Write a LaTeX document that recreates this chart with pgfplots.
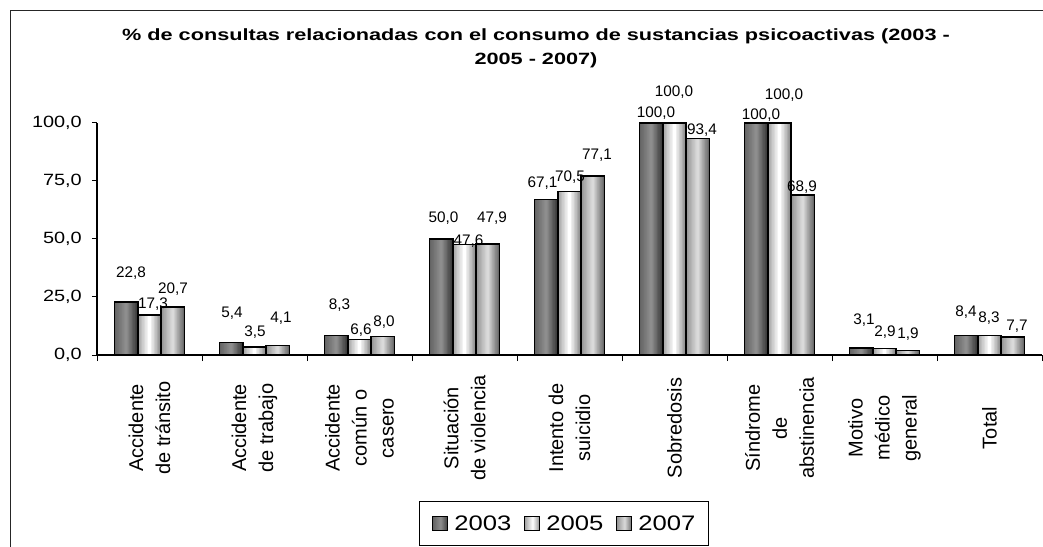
\documentclass[border=0pt]{standalone}
\usepackage{fontspec}
\setmainfont{Liberation Sans}
\newfontfamily\stretchA{Liberation Sans}[FakeStretch=1.22]
\newfontfamily\titlefam{Liberation Sans}[FakeStretch=1.33]
\usepackage{pgfplots}
\usepackage{pgfplotstable}
\pgfplotsset{compat=1.18}

\definecolor{aL}{RGB}{100,100,100}
\definecolor{aM}{RGB}{142,142,142}
\definecolor{aR}{RGB}{58,58,58}
\definecolor{bL}{RGB}{165,165,165}
\definecolor{bM}{RGB}{255,255,255}
\definecolor{bR}{RGB}{140,140,140}
\definecolor{cL}{RGB}{150,150,150}
\definecolor{cM}{RGB}{218,218,218}
\definecolor{cR}{RGB}{105,105,105}

\newcommand\lfont{\fontsize{15.3}{15.3}\selectfont}
\newcommand\ytfont{\stretchA\fontsize{16.3}{16.3}\selectfont}
\newcommand\legfont{\stretchA\fontsize{21}{21}\selectfont}
\newcommand\xtfont{\fontsize{20}{27}\selectfont}
\newcommand\tifont{\titlefam\bfseries\fontsize{16.3}{23.5}\selectfont}

% bar values of each series
\pgfplotstableread{
x y
0 22.8
1 5.4
2 8.3
3 50.0
4 67.1
5 100
6 100
7 3.1
8 8.4
}\dA
\pgfplotstableread{
x y
0 17.3
1 3.5
2 6.6
3 47.6
4 70.5
5 100
6 100
7 2.9
8 8.3
}\dB
\pgfplotstableread{
x y
0 20.7
1 4.1
2 8.0
3 47.9
4 77.1
5 93.4
6 68.9
7 1.9
8 7.7
}\dC

% label positions (x in category units, y in value units) and texts
\pgfplotstableread{
x y l
-0.176 35.3 22,8
0.786 18.1 5,4
1.810 21.6 8,3
2.800 59.1 50,0
3.743 74.1 67,1
4.824 104.3 100,0
5.824 103.4 100,0
6.805 15.1 3,1
7.776 18.5 8,4
}\labA
\pgfplotstableread{
x y l
0.033 22.0 17,3
1.005 9.9 3,5
2.014 10.8 6,6
3.038 49.1 47,6
4.005 76.7 70,5
4.995 113.4 100,0
6.043 112.1 100,0
7.005 9.9 2,9
7.995 15.9 8,3
}\labB
\pgfplotstableread{
x y l
0.224 28.4 20,7
1.252 15.9 4,1
2.233 14.2 8,0
3.262 59.1 47,9
4.262 86.2 77,1
5.262 97.0 93,4
6.214 72.4 68,9
7.224 9.1 1,9
8.262 12.5 7,7
}\labC

% horizontally shaded bars: #1 table, #2 shift (pt), #3 left, #4 middle, #5 right colour
\newcommand\shadedbars[5]{%
  \pgfplotsinvokeforeach{0,...,7}{%
    \pgfmathsetmacro\sA{-11.65+##1*11.65/8}%
    \pgfmathsetmacro\wA{0.3-\sA}%
    \pgfmathsetmacro\cA{#2+(\sA+0.3)/2}%
    \pgfmathtruncatemacro\pc{##1*100/7}%
    \pgfmathsetmacro\sB{11.65-##1*11.65/8}%
    \pgfmathsetmacro\cB{#2+\sB/2}%
    \edef\tmp{%
      \noexpand\addplot[forget plot, ybar, draw=none, bar width=\wA pt, bar shift=\cA pt, fill=#4!\pc!#3] table[x=x,y=y] {\noexpand#1};%
      \noexpand\addplot[forget plot, ybar, draw=none, bar width=\sB pt, bar shift=\cB pt, fill=#4!\pc!#5] table[x=x,y=y] {\noexpand#1};%
    }%
    \tmp
  }%
}

\begin{document}
\begin{tikzpicture}
\begin{axis}[
  at={(97pt,191pt)}, anchor=south west,
  scale only axis, width=945pt, height=232pt,
  xmin=-0.5, xmax=8.5, ymin=0, ymax=100,
  clip=false,
  axis x line*=bottom, axis y line*=left,
  axis line style={-, line width=1.2pt, black},
  tick align=outside,
  tick style={black, line width=1pt},
  xtick={0,...,8},
  xticklabels={{Accidente\\de tránsito},{Accidente\\de trabajo},{Accidente\\común o\\casero},{Situación\\de violencia},{Intento de\\suicidio},{Sobredosis},{Síndrome\\de\\abstinencia},{Motivo\\médico\\general},{Total}},
  major x tick style={draw=none},
  minor xtick={-0.5,0.5,...,8.5},
  minor tick length=6pt,
  major tick length=5pt,
  ytick={0,25,50,75,100},
  yticklabels={{0,0},{25,0},{50,0},{75,0},{100,0}},
  yticklabel style={font=\ytfont, anchor=east, inner sep=0pt, xshift=-10pt},
  xticklabel style={font=\xtfont, align=center, yshift=-68pt, rotate=90, anchor=center, inner sep=0pt},
  legend columns=3,
  legend style={at={(0.3407,-0.63)}, anchor=north west, draw=black, line width=1pt,
    font=\legfont, inner xsep=13pt, inner ysep=11pt,
    nodes={inner xsep=0pt, inner ysep=3pt},
    column sep=6pt,
    /tikz/every even column/.append style={column sep=13pt}},
  legend cell align=left,
]
\shadedbars{\dA}{-23.3}{aL}{aM}{aR}
\shadedbars{\dB}{0}{bL}{bM}{bR}
\shadedbars{\dC}{23.3}{cL}{cM}{cR}

\addplot[ybar, bar width=23.3pt, bar shift=-23.3pt, fill=none, draw=black, line width=1.5pt,
  legend image code/.code={\draw[draw=black, line width=1pt, left color=aL, right color=aR, middle color=aM] (0pt,-7pt) rectangle (15pt,7pt);}]
  table[x=x,y=y] {\dA};
\addplot[ybar, bar width=23.3pt, bar shift=0pt, fill=none, draw=black, line width=1.5pt,
  legend image code/.code={\draw[draw=black, line width=1pt, left color=bL, right color=bR, middle color=bM] (0pt,-7pt) rectangle (15pt,7pt);}]
  table[x=x,y=y] {\dB};
\addplot[ybar, bar width=23.3pt, bar shift=23.3pt, fill=none, draw=black, line width=1.5pt,
  legend image code/.code={\draw[draw=black, line width=1pt, left color=cL, right color=cR, middle color=cM] (0pt,-7pt) rectangle (15pt,7pt);}]
  table[x=x,y=y] {\dC};
\legend{2003,2005,{2007\hspace{22pt}}}

\addplot[forget plot, draw=none, mark=none, nodes near coords, point meta=explicit symbolic,
  nodes near coords style={font=\lfont, anchor=center, inner sep=0pt}]
  table[x=x, y=y, meta=l] {\labA};
\addplot[forget plot, draw=none, mark=none, nodes near coords, point meta=explicit symbolic,
  nodes near coords style={font=\lfont, anchor=center, inner sep=0pt}]
  table[x=x, y=y, meta=l] {\labB};
\addplot[forget plot, draw=none, mark=none, nodes near coords, point meta=explicit symbolic,
  nodes near coords style={font=\lfont, anchor=center, inner sep=0pt}]
  table[x=x, y=y, meta=l] {\labC};
\end{axis}

\node[align=center, font=\tifont] at (536pt,497.5pt)
  {\% de consultas relacionadas con el consumo de sustancias psicoactivas (2003 -\\2005 - 2007)};
\draw[line width=1pt, black!85] (10.5pt,-10pt) -- (10.5pt,535.3pt) -- (1070pt,535.3pt);

\pgfresetboundingbox
\useasboundingbox (0,0) rectangle (1043pt,546pt);
\end{tikzpicture}
\end{document}
